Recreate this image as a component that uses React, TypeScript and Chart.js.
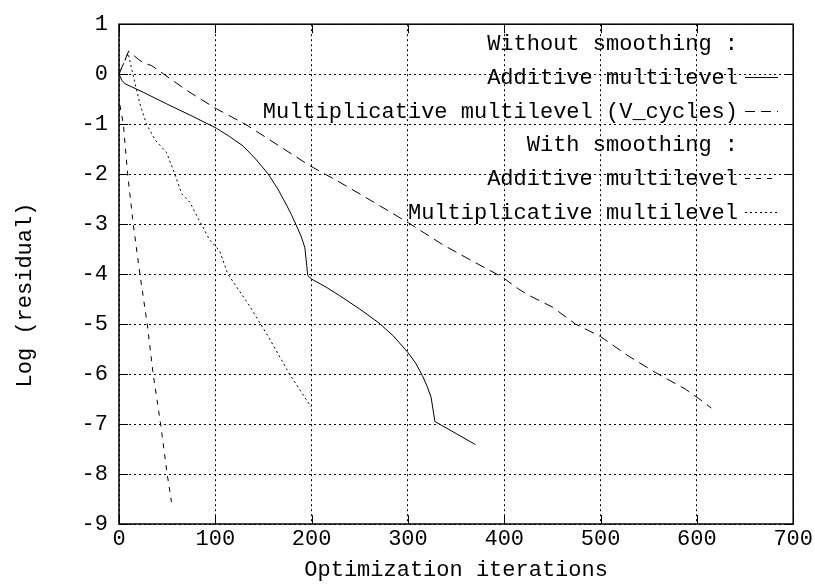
import React, { useEffect, useRef } from "react";
import { Chart, registerables } from "chart.js";

Chart.register(...registerables);

// ---- tick values ----
const xTickValues = [0, 100, 200, 300, 400, 500, 600, 700];
const yTickValues = [-9, -8, -7, -6, -5, -4, -3, -2, -1, 0, 1];

const xAxisTitle = "Optimization iterations";
const yAxisTitle = "Log (residual)";

// ---- series: without smoothing, additive multilevel (solid) ----
const addNoSmoothX = [0, 3, 6, 25, 50, 75, 101, 115, 129, 142, 155, 165, 174, 179, 184, 189, 193, 196, 200, 215, 229, 250, 270, 285, 300, 308, 315, 320, 324, 328, 350, 370];
const addNoSmoothY = [0, -0.12, -0.19, -0.36, -0.6, -0.83, -1.08, -1.25, -1.44, -1.7, -2.0, -2.3, -2.62, -2.81, -3.02, -3.24, -3.47, -4.03, -4.1, -4.26, -4.43, -4.7, -4.98, -5.24, -5.57, -5.78, -6.03, -6.25, -6.46, -6.95, -7.19, -7.41];

// ---- series: without smoothing, multiplicative multilevel V-cycles (long dash) ----
const mulNoSmoothX = [0, 10, 20, 25, 34, 51, 70, 84, 101, 132, 165, 198, 229, 253, 281, 301, 336, 367, 398, 415, 426, 450, 474, 500, 529, 557, 588, 602, 615];
const mulNoSmoothY = [0, 0.46, 0.3, 0.23, 0.17, -0.06, -0.32, -0.49, -0.69, -1.01, -1.42, -1.83, -2.16, -2.43, -2.75, -2.98, -3.41, -3.74, -4.06, -4.3, -4.43, -4.66, -5.0, -5.25, -5.64, -5.97, -6.3, -6.49, -6.68];

// ---- series: with smoothing, additive multilevel (short dash) ----
const addSmoothX = [1, 4.5, 9, 14.8, 21.7, 29.3, 35.5, 43.2, 50, 54.5];
const addSmoothY = [-0.62, -1, -2, -3, -4, -5, -6, -7, -8, -8.56];

// ---- series: with smoothing, multiplicative multilevel (dotted) ----
const mulSmoothX = [0, 9.5, 15, 21.7, 28.6, 37.3, 49.4, 58, 65, 73.5, 82, 94, 104.6, 113, 134, 155, 177, 199.5];
const mulSmoothY = [0, 0.42, -0.05, -0.59, -1.0, -1.31, -1.57, -2.0, -2.39, -2.56, -2.88, -3.31, -3.54, -4.0, -4.59, -5.25, -6.0, -6.66];

// ---- legend ----
const legendLabels = [
  "Without smoothing :",
  "Additive multilevel",
  "Multiplicative multilevel (V_cycles)",
  "With smoothing :",
  "Additive multilevel",
  "Multiplicative multilevel",
];
const legendSeriesIndex = [-1, 0, 1, -1, 2, 3];

const FONT = "'Liberation Mono', 'DejaVu Sans Mono', monospace";
const FONT_SIZE = 22;

const toPoints = (xs: number[], ys: number[]) => xs.map((x, i) => ({ x, y: ys[i] }));

const seriesDashes: number[][] = [[], [10, 6], [5, 6], [2, 3]];

const framePlugin = {
  id: "gnuFrame",
  afterDraw(chart: any) {
    const { ctx, chartArea } = chart;
    const { left, right, top, bottom } = chartArea;
    const xs = chart.scales.x;
    const ys = chart.scales.y;
    ctx.save();
    ctx.strokeStyle = "#000";
    ctx.setLineDash([]);
    ctx.lineWidth = 1;
    ctx.beginPath();
    const tl = 9;
    for (const v of xTickValues) {
      const px = Math.round(xs.getPixelForValue(v)) + 0.5;
      ctx.moveTo(px, bottom);
      ctx.lineTo(px, bottom - tl);
      ctx.moveTo(px, top);
      ctx.lineTo(px, top + tl);
    }
    for (const v of yTickValues) {
      const py = Math.round(ys.getPixelForValue(v)) + 0.5;
      ctx.moveTo(left, py);
      ctx.lineTo(left + tl, py);
      ctx.moveTo(right, py);
      ctx.lineTo(right - tl, py);
    }
    ctx.stroke();
    ctx.lineWidth = 1.5;
    ctx.strokeRect(left, top, right - left, bottom - top);

    ctx.font = `${FONT_SIZE}px ${FONT}`;
    ctx.fillStyle = "#000";

    // y axis title
    ctx.save();
    ctx.translate(25, 295);
    ctx.rotate(-Math.PI / 2);
    ctx.textAlign = "center";
    ctx.textBaseline = "middle";
    ctx.fillText(yAxisTitle, 0, 0);
    ctx.restore();

    // legend
    ctx.textAlign = "right";
    ctx.textBaseline = "alphabetic";
    const textRight = 738;
    const baseline0 = 50;
    const rowH = 33.8;
    legendLabels.forEach((label, i) => {
      const by = baseline0 + i * rowH;
      ctx.fillText(label, textRight, by);
      const si = legendSeriesIndex[i];
      if (si >= 0) {
        ctx.save();
        ctx.lineWidth = 1;
        ctx.setLineDash(seriesDashes[si]);
        ctx.beginPath();
        const ly = Math.round(by - 7) + 0.5;
        ctx.moveTo(745, ly);
        ctx.lineTo(778, ly);
        ctx.stroke();
        ctx.restore();
      }
    });
    ctx.restore();
  },
};

export default function App() {
  const canvasRef = useRef<HTMLCanvasElement | null>(null);

  useEffect(() => {
    const canvas = canvasRef.current;
    if (!canvas) return;
    const mk = (xs: number[], ys: number[], i: number) => ({
      data: toPoints(xs, ys),
      borderColor: "#000",
      borderWidth: 1,
      borderDash: seriesDashes[i],
      pointRadius: 0,
      fill: false,
      tension: 0,
    });
    const chart = new Chart(canvas, {
      type: "line",
      data: {
        datasets: [
          mk(addNoSmoothX, addNoSmoothY, 0),
          mk(mulNoSmoothX, mulNoSmoothY, 1),
          mk(addSmoothX, addSmoothY, 2),
          mk(mulSmoothX, mulSmoothY, 3),
        ],
      },
      options: {
        animation: false,
        responsive: false,
        devicePixelRatio: 1,
        layout: { padding: { top: 16, right: 20, left: 0, bottom: 0 } },
        plugins: { legend: { display: false }, tooltip: { enabled: false } },
        scales: {
          x: {
            type: "linear",
            min: 0,
            max: 700,
            afterBuildTicks: (s: any) => {
              s.ticks = xTickValues.map((v) => ({ value: v }));
            },
            afterFit: (s: any) => {
              s.height = 61;
            },
            ticks: {
              font: { family: FONT, size: FONT_SIZE },
              color: "#000",
              padding: 2,
              maxRotation: 0,
              autoSkip: false,
              callback: (v: any) => String(v),
            },
            grid: { color: "#000", lineWidth: 1, drawTicks: false },
            border: { display: false, dash: [2, 3] },
            title: {
              display: true,
              text: xAxisTitle,
              font: { family: FONT, size: FONT_SIZE },
              color: "#000",
              padding: { top: 0, bottom: 2 },
            },
          },
          y: {
            type: "linear",
            min: -9,
            max: 1,
            afterBuildTicks: (s: any) => {
              s.ticks = yTickValues.map((v) => ({ value: v }));
            },
            afterFit: (s: any) => {
              s.width = 119;
            },
            ticks: {
              font: { family: FONT, size: FONT_SIZE },
              color: "#000",
              padding: 11,
              autoSkip: false,
              callback: (v: any) => String(v),
            },
            grid: { color: "#000", lineWidth: 1, drawTicks: false },
            border: { display: false, dash: [2, 3] },
            title: { display: false },
          },
        },
      },
      plugins: [framePlugin],
    });
    return () => chart.destroy();
  }, []);

  return (
    <div style={{ position: "absolute", left: 0, top: 0, width: 815, height: 585, background: "#fff" }}>
      <canvas ref={canvasRef} width={815} height={585} style={{ display: "block" }} />
    </div>
  );
}
